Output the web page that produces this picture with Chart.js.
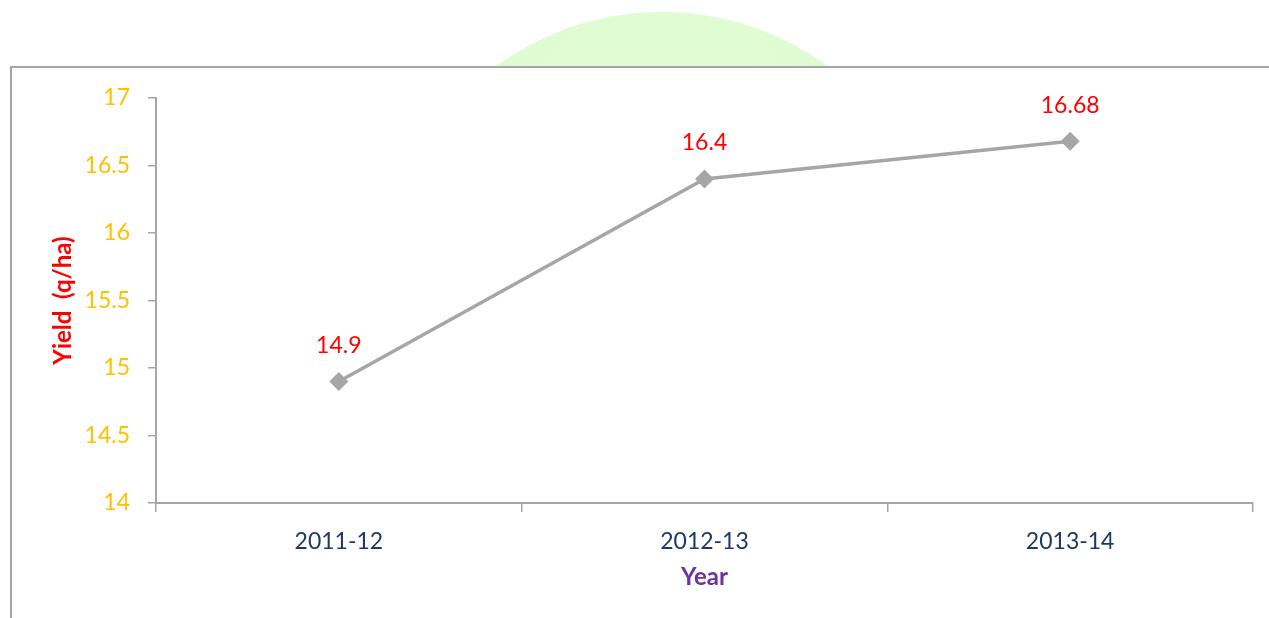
<!DOCTYPE html>
<html>
<head>
<meta charset="utf-8">
<script src="https://cdn.jsdelivr.net/npm/chart.js@4/dist/chart.umd.min.js"></script>
<style>
    html, body { margin: 0; padding: 0; background: #fff; overflow: hidden; }
    #marca {
        position: absolute; left: 381px; top: 12px; width: 562px; height: 562px;
        border-radius: 50%;
        background: radial-gradient(circle at 50% 20%, #e2fdd4 0%, #ddfacf 50%, #d2edc4 100%);
    }
    #caja {
        position: absolute; left: 10px; top: 66px; width: 1300px; height: 600px;
        border: 2px solid #a6a6a6; background: #fff;
    }
    #lienzo { position: absolute; left: 0; top: 0; }
</style>
</head>
<body>
<div id="marca"></div>
<div id="caja"></div>
<canvas id="lienzo" width="1269" height="618"></canvas>
<script>
// Datos del gráfico
const anios = ['2011-12', '2012-13', '2013-14'];
const rendimiento = [14.9, 16.4, 16.68];
const ticksY = [14, 14.5, 15, 15.5, 16, 16.5, 17];

const gris = '#a6a6a6';
const fuente = 'Lato, "Open Sans", sans-serif';

// Etiquetas de valor sobre cada punto
const etiquetasValor = {
    id: 'etiquetasValor',
    afterDatasetsDraw(chart) {
        const ctx = chart.ctx;
        const meta = chart.getDatasetMeta(0);
        ctx.save();
        ctx.font = '23px ' + fuente;
        ctx.fillStyle = '#ff0000';
        ctx.textAlign = 'center';
        ctx.textBaseline = 'middle';
        meta.data.forEach((p, i) => {
            ctx.fillText(String(rendimiento[i]), p.x, p.y - 36);
        });
        ctx.restore();
    }
};

new Chart(document.getElementById('lienzo'), {
    type: 'line',
    data: {
        labels: anios,
        datasets: [{
            data: rendimiento,
            borderColor: gris,
            backgroundColor: gris,
            borderWidth: 3.5,
            pointStyle: 'rectRot',
            pointRadius: 7,
            pointHoverRadius: 7,
            tension: 0
        }]
    },
    options: {
        responsive: false,
        animation: false,
        events: [],
        layout: { padding: { top: 98, right: 16, bottom: 0, left: 0 } },
        plugins: { legend: { display: false }, tooltip: { enabled: false } },
        scales: {
            x: {
                offset: true,
                grid: { offset: true, drawOnChartArea: false, drawTicks: true, tickLength: 9, color: gris, lineWidth: 1.5 },
                border: { display: true, color: gris, width: 2 },
                ticks: { color: '#1f3864', font: { family: fuente, size: 23 }, padding: 16 },
                title: { display: true, text: 'Year', color: '#7030a0', font: { family: fuente, size: 24, weight: 'bold' }, padding: { top: 0, bottom: 26 } },
                afterFit(scale) { scale.height = 115; }
            },
            y: {
                min: 14,
                max: 17,
                afterBuildTicks(scale) { scale.ticks = ticksY.map(v => ({ value: v })); },
                grid: { drawOnChartArea: false, drawTicks: true, tickLength: 8, color: gris, lineWidth: 1.5 },
                border: { display: true, color: gris, width: 2 },
                ticks: {
                    color: '#ffc000',
                    font: { family: fuente, size: 23 },
                    padding: 18,
                    callback: v => String(v)
                },
                title: { display: true, text: 'Yield  (q/ha)', color: '#ff0000', font: { family: fuente, size: 24, weight: 'bold' }, padding: { top: 49, bottom: 0 } },
                afterFit(scale) { scale.width = 156; }
            }
        }
    },
    plugins: [etiquetasValor]
});
</script>
</body>
</html>
